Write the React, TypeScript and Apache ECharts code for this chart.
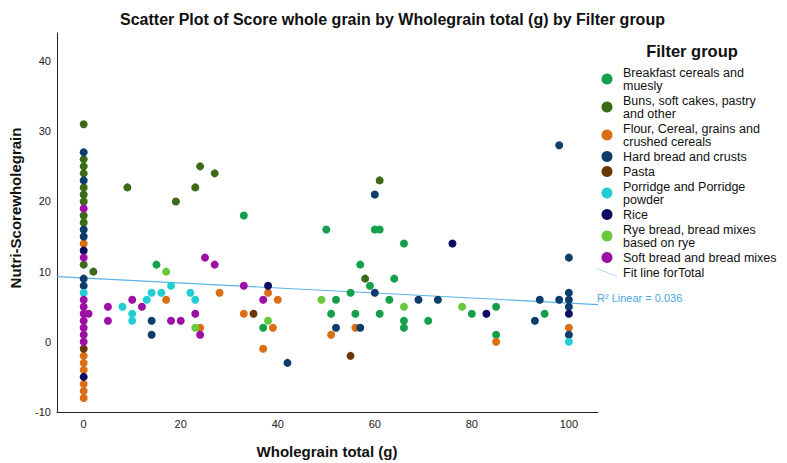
import React, { useEffect, useRef } from "react";
import * as echarts from "echarts";

const groupNames = [
  "Breakfast cereals and\nmuesly",
  "Buns, soft cakes, pastry\nand other",
  "Flour, Cereal, grains and\ncrushed cereals",
  "Hard bread and crusts",
  "Pasta",
  "Porridge and Porridge\npowder",
  "Rice",
  "Rye bread, bread mixes\nbased on rye",
  "Soft bread and bread mixes",
];

const groupColors = [
  "#14a04a",
  "#3b6b16",
  "#d96f12",
  "#0e3d6c",
  "#6a3608",
  "#22cdd4",
  "#0b0c62",
  "#69c93c",
  "#9c0ea4",
];

const breakfast = [
  [33, 18], [15, 11], [37, 2], [50, 16], [60, 16], [61, 16], [66, 14], [57, 11], [64, 9], [59, 8],
  [55, 7], [52, 6], [63, 6], [51, 4], [56, 4], [61, 4], [66, 3], [71, 3], [66, 2], [80, 4],
  [85, 5], [95, 4], [85, 1],
];
const buns = [
  [0, 31], [0, 26], [0, 25], [0, 24], [0, 22], [0, 21], [0, 20], [0, 18], [0, 17], [0, 11],
  [2, 10], [9, 22], [24, 25], [27, 24], [23, 22], [19, 20], [61, 23], [58, 9],
];
const flour = [
  [0, 14], [0, -2], [0, -3], [0, -4], [0, -6], [0, -7], [0, -8], [28, 7], [38, 7], [17, 6],
  [40, 6], [33, 4], [24, 2], [39, 2], [37, -1], [56, 2], [51, 1], [85, 0], [100, 2],
];
const hardBread = [
  [0, 27], [0, 23], [0, 16], [0, 15], [0, 9], [0, 8], [14, 3], [14, 1], [42, -3], [60, 21],
  [60, 7], [69, 6], [73, 6], [52, 2], [57, 2], [98, 28], [100, 12], [100, 7], [100, 6], [100, 5],
  [94, 6], [98, 6], [93, 3], [100, 1],
];
const pasta = [[0, -1], [35, 4], [55, -2]];
const porridge = [
  [0, 7], [18, 8], [14, 7], [16, 7], [22, 7], [13, 6], [23, 6], [8, 5], [10, 4], [10, 3], [100, 0],
];
const rice = [[0, 13], [0, -5], [38, 8], [76, 14], [100, 4], [83, 4]];
const rye = [[17, 10], [38, 3], [23, 2], [49, 6], [66, 5], [78, 5]];
const softBread = [
  [0, 19], [0, 12], [0, 6], [0, 5], [0, 4], [0, 3], [0, 2], [0, 1], [0, 0], [1, 4],
  [25, 12], [27, 11], [33, 8], [10, 6], [37, 6], [5, 5], [12, 5], [23, 4], [5, 3], [18, 3],
  [20, 3], [24, 1],
];

const groupData = [breakfast, buns, flour, hardBread, pasta, porridge, rice, rye, softBread];

const xTicks = [0, 20, 40, 60, 80, 100];
const yTicks = [-10, 0, 10, 20, 30, 40];
const fitName = "Fit line forTotal";
const r2Text = "R² Linear = 0.036";

const X_MIN = -5.5;
const X_MAX = 106;

function fitLine(): number[][] {
  const pts = groupData.flat();
  const n = pts.length;
  let sx = 0, sy = 0, sxx = 0, sxy = 0;
  pts.forEach(([x, y]) => {
    sx += x; sy += y; sxx += x * x; sxy += x * y;
  });
  const b = (n * sxy - sx * sy) / (n * sxx - sx * sx);
  const a = (sy - b * sx) / n;
  return [[X_MIN, a + b * X_MIN], [X_MAX, a + b * X_MAX]];
}

export default function App() {
  const ref = useRef<HTMLDivElement>(null);
  useEffect(() => {
    if (!ref.current) return;
    const chart = echarts.init(ref.current, null, { renderer: "svg" });
    const font = "'Liberation Sans', Arial, sans-serif";
    const series: any[] = groupNames.map((name, i) => ({
      type: "scatter",
      name,
      data: groupData[i],
      symbolSize: 8,
      itemStyle: { color: groupColors[i], opacity: 1 },
    }));
    series.push({
      type: "line",
      name: fitName,
      data: fitLine(),
      showSymbol: false,
      symbol: "none",
      lineStyle: { color: "#5ab4e6", width: 1.2 },
      itemStyle: { color: "#5ab4e6" },
      z: 1,
    });
    chart.setOption({
      animation: false,
      textStyle: { fontFamily: font },
      title: {
        text: "Scatter Plot of Score whole grain by Wholegrain total (g) by Filter group",
        left: 115,
        top: 6,
        textStyle: { fontSize: 16, fontWeight: "bold", color: "#111", fontFamily: font },
      },
      grid: { left: 57, right: 189, top: 33, bottom: 51 },
      legend: {
        orient: "vertical",
        left: 596,
        top: 66,
        padding: 0,
        itemGap: 2,
        itemWidth: 22,
        itemHeight: 11,
        textStyle: { fontSize: 12.5, lineHeight: 13, color: "#111", fontFamily: font },
        data: [
          ...groupNames.map((name) => ({ name, icon: "circle" })),
          { name: fitName, icon: "path://M0,0 L1.2,0 L22,8 L20.8,8 Z" },
        ],
      },
      xAxis: {
        type: "value",
        min: X_MIN,
        max: X_MAX,
        axisLine: { show: true, onZero: false, lineStyle: { color: "#222", width: 1 } },
        axisTick: { show: false },
        splitLine: { show: false },
        axisLabel: { customValues: xTicks, fontSize: 11, color: "#222", margin: 6, fontFamily: font },
      },
      yAxis: {
        type: "value",
        min: -10,
        max: 44,
        axisLine: { show: true, onZero: false, lineStyle: { color: "#222", width: 1 } },
        axisTick: { show: false },
        splitLine: { show: false },
        axisLabel: { customValues: yTicks, fontSize: 11, color: "#222", margin: 6, fontFamily: font },
      },
      graphic: [
        {
          type: "text",
          x: 692,
          y: 51,
          style: {
            text: "Filter group",
            fontSize: 16.5,
            fontWeight: "bold",
            fill: "#111",
            fontFamily: font,
            textAlign: "center",
            textVerticalAlign: "middle",
          },
        },
        {
          type: "text",
          x: 597,
          y: 298,
          style: {
            text: r2Text,
            fontSize: 11,
            fill: "#4aa8e0",
            fontFamily: font,
            textAlign: "left",
            textVerticalAlign: "middle",
          },
        },
        {
          type: "text",
          x: 15,
          y: 208,
          rotation: Math.PI / 2,
          style: {
            text: "Nutri-Scorewholegrain",
            fontSize: 15,
            fontWeight: "bold",
            fill: "#111",
            fontFamily: font,
            textAlign: "center",
            textVerticalAlign: "middle",
          },
        },
        {
          type: "text",
          x: 327,
          y: 451,
          style: {
            text: "Wholegrain total (g)",
            fontSize: 15,
            fontWeight: "bold",
            fill: "#111",
            fontFamily: font,
            textAlign: "center",
            textVerticalAlign: "middle",
          },
        },
      ],
      series,
    });
    return () => chart.dispose();
  }, []);
  return (
    <div
      ref={ref}
      style={{ position: "absolute", left: 0, top: 0, width: 787, height: 463 }}
    />
  );
}
